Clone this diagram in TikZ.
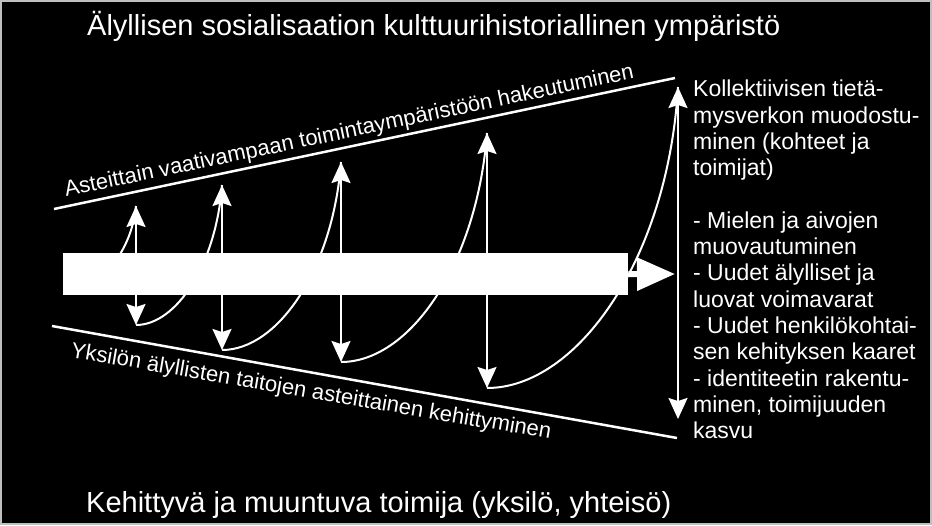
\documentclass[tikz,border=0pt]{standalone}
\usepackage{fontspec}
\setmainfont{Liberation Sans}
\usetikzlibrary{arrows.meta}

\begin{document}
\begin{tikzpicture}[x=1pt,y=-1pt,
		every node/.style={text=white,inner sep=0pt},
		isoteksti/.style={font=\fontsize{29}{33}\selectfont,anchor=base west},
		vinoteksti/.style={font=\fontsize{22}{26}\selectfont,anchor=base west},
		rajaviiva/.style={draw=white,line width=2.5pt},
		kaari/.style={draw=white,line width=2pt},
		nuoli/.style={draw=white,line width=2pt,{Stealth[length=21pt,width=19pt,inset=3pt]}-{Stealth[length=21pt,width=19pt,inset=3pt]}}]
		\useasboundingbox (0,0) rectangle (932,525);
		\fill[black] (0,0) rectangle (932,525);
		\draw[black!25, line width=2pt] (1,1) rectangle (931,524);

		\coordinate (yv) at (54,209);
		\coordinate (yo) at (675,78);
		\coordinate (av) at (52,326);
		\coordinate (ao) at (677,438);
		\draw[rajaviiva] (yv) -- (yo);
		\draw[rajaviiva] (av) -- (ao);

		\coordinate (a0) at (66,290);
		\coordinate (y1) at (136,206);
		\coordinate (a1) at (136,325);
		\coordinate (y2) at (222,185);
		\coordinate (a2) at (222,350);
		\coordinate (y3) at (341,162);
		\coordinate (a3) at (341,362);
		\coordinate (y4) at (487,133);
		\coordinate (a4) at (487,388);
		\coordinate (y5) at (678,87);
		\coordinate (a5) at (678,419);

		\draw[kaari] (a0) .. controls +(33,0) and +(-5,48) .. (y1);
		\draw[kaari] (a1) .. controls +(40,0) and +(-6,80) .. (y2);
		\draw[kaari] (a2) .. controls +(56,0) and +(-8,107) .. (y3);
		\draw[kaari] (a3) .. controls +(69,0) and +(-10,131) .. (y4);
		\draw[kaari] (a4) .. controls +(90,0) and +(-10,172) .. (y5);

		\draw[nuoli] (y1) -- (a1);
		\draw[nuoli] (y2) -- (a2);
		\draw[nuoli] (y3) -- (a3);
		\draw[nuoli] (y4) -- (a4);
		\draw[nuoli] (y5) -- (a5);

		\node[fill=white, minimum width=565pt, minimum height=42pt, anchor=north west] (palkki) at (63,253) {};
		\coordinate (karki) at (675,274);
		\draw[white, line width=6pt, -{Triangle[length=38pt,width=32pt]}] (palkki.east) -- (karki);

		\node[isoteksti] (otsikko) at (87,35) {Älyllisen sosialisaation kulttuurihistoriallinen ympäristö};
		\node[isoteksti] (toimija) at (86,512) {Kehittyvä ja muuntuva toimija (yksilö, yhteisö)};
		\node[vinoteksti, rotate=11.8] (ylateksti) at (66,197) {Asteittain vaativampaan toimintaympäristöön hakeutuminen};
		\node[vinoteksti, rotate=-9.7] (alateksti) at (70,357) {Yksilön älyllisten taitojen asteittainen kehittyminen};
		\node[font=\fontsize{23}{26.3}\selectfont, align=left, anchor=north west] (tulokset) at (693,80) {Kollektiivisen tietä-\\mysverkon muodostu-\\minen (kohteet ja\\toimijat)\\[26.3pt]- Mielen ja aivojen\\muovautuminen\\- Uudet älylliset ja\\luovat voimavarat\\- Uudet henkilökohtai-\\sen kehityksen kaaret\\- identiteetin rakentu-\\minen, toimijuuden\\kasvu};
	\end{tikzpicture}
\end{document}
